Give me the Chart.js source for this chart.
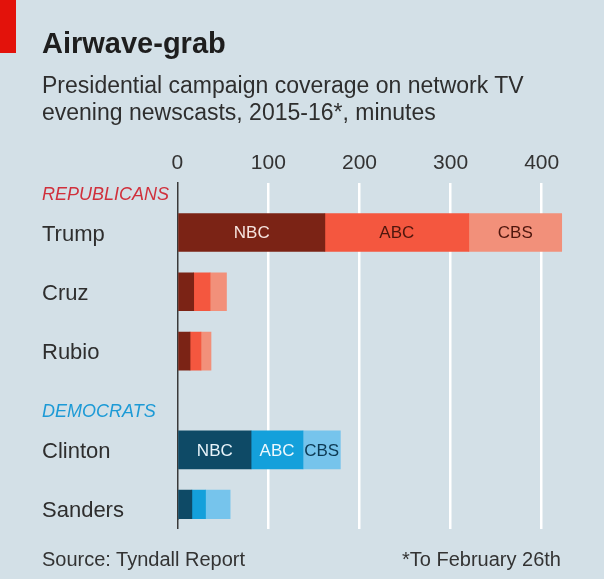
<!DOCTYPE html>
<html lang="en">
<head>
    <meta charset="UTF-8">
    <title>Airwave-grab</title>
    <script src="https://cdn.jsdelivr.net/npm/chart.js"></script>
    <style>
        body {
            margin: 0;
            background: #d3e0e7;
            font-family: "Liberation Sans", Arial, sans-serif;
            color: #2a2a2a;
        }
        .wrap {
            position: relative;
            width: 604px;
            height: 579px;
            overflow: hidden;
        }
        canvas {
            position: absolute;
            left: 0;
            top: 0;
        }
        .flag {
            position: absolute;
            left: 0;
            top: 0;
            width: 16px;
            height: 53px;
            background: #e3120b;
        }
        .title {
            position: absolute;
            left: 42px;
            top: 28.5px;
            font-size: 29px;
            line-height: 1;
            font-weight: bold;
            color: #1e1e1e;
        }
        .subtitle {
            position: absolute;
            left: 42px;
            top: 71.6px;
            font-size: 23px;
            line-height: 27.4px;
            color: #2e2e2e;
        }
        .note {
            position: absolute;
            top: 549px;
            font-size: 20px;
            line-height: 1;
            color: #333;
        }
    </style>
</head>
<body>
<div class="wrap">
    <canvas id="chart" width="604" height="579"></canvas>
    <div class="flag"></div>
    <div class="title">Airwave-grab</div>
    <div class="subtitle">Presidential campaign coverage on network TV<br>evening newscasts, 2015-16*, minutes</div>
    <div class="note" style="left: 42px;">Source: Tyndall Report</div>
    <div class="note" style="right: 43px;">*To February 26th</div>
</div>

<script>
    // minutes of coverage
    const republicans = ['Trump', 'Cruz', 'Rubio'];
    const repNBC = [162, 18, 14];
    const repABC = [158, 18, 12];
    const repCBS = [102, 18, 11];

    const democrats = ['Clinton', 'Sanders'];
    const demNBC = [81, 16];
    const demABC = [57, 15];
    const demCBS = [41, 27];

    const networks = ['NBC', 'ABC', 'CBS'];
    const xTicks = [0, 100, 200, 300, 400];

    const redShades = ['#7b2315', '#f4573f', '#f2907a'];
    const blueShades = ['#0e4a66', '#14a0db', '#76c4ec'];
    const redText = ['#f6e4df', '#4e160d', '#4e160d'];
    const blueText = ['#e8f4fa', '#eef8fd', '#0c3953'];

    // rows of the category axis, with blank rows as spacers
    const rows = [];
    const gap = (n) => { for (let i = 0; i < n; i++) rows.push(''); };
    rows.push('REPUBLICANS');
    gap(1);
    republicans.forEach((name, i) => { if (i) gap(2); rows.push(name); });
    gap(2);
    rows.push('DEMOCRATS');
    gap(1);
    democrats.forEach((name, i) => { if (i) gap(2); rows.push(name); });

    const repSeries = [repNBC, repABC, repCBS];
    const demSeries = [demNBC, demABC, demCBS];

    function valuesFor(k) {
        return rows.map((r) => {
            if (republicans.includes(r)) return repSeries[k][republicans.indexOf(r)];
            if (democrats.includes(r)) return demSeries[k][democrats.indexOf(r)];
            return null;
        });
    }

    const isDem = (i) => democrats.includes(rows[i]);
    const isHeader = (r) => r === 'REPUBLICANS' || r === 'DEMOCRATS';

    // network names inside the first bar of each party
    const segmentLabels = {
        id: 'segmentLabels',
        afterDatasetsDraw(chart) {
            const ctx = chart.ctx;
            ctx.save();
            ctx.font = '17px "Liberation Sans", Arial, sans-serif';
            ctx.textAlign = 'center';
            ctx.textBaseline = 'middle';
            chart.data.datasets.forEach((ds, k) => {
                const meta = chart.getDatasetMeta(k);
                [republicans[0], democrats[0]].forEach((name) => {
                    const i = rows.indexOf(name);
                    const bar = meta.data[i];
                    ctx.fillStyle = isDem(i) ? blueText[k] : redText[k];
                    ctx.fillText(networks[k], (bar.x + bar.base) / 2, bar.y + 1);
                });
            });
            ctx.restore();
        }
    };

    const gridColor = (c) => (c.tick && c.tick.value === 0 ? '#3a3a3a' : '#ffffff');
    const gridWidth = (c) => (c.tick && c.tick.value === 0 ? 1.5 : 2.5);

    new Chart(document.getElementById('chart'), {
        type: 'bar',
        data: {
            labels: rows,
            datasets: networks.map((n, k) => ({
                label: n,
                data: valuesFor(k),
                backgroundColor: (c) => (isDem(c.dataIndex) ? blueShades[k] : redShades[k]),
                borderWidth: 0,
                barThickness: 38,
            })),
        },
        options: {
            indexAxis: 'y',
            responsive: false,
            animation: false,
            layout: {
                padding: { left: 42, right: 35, top: 130, bottom: 50 },
            },
            plugins: {
                legend: { display: false },
                tooltip: { enabled: false },
            },
            scales: {
                x: {
                    position: 'top',
                    stacked: true,
                    min: 0,
                    max: 430,
                    afterBuildTicks: (s) => { s.ticks = xTicks.map((v) => ({ value: v })); },
                    afterFit: (s) => { s.height = 53.1; },
                    border: { display: false },
                    grid: {
                        color: (c) => (c.tick && c.tick.value === 0 ? 'transparent' : '#ffffff'),
                        lineWidth: 2.5,
                        drawTicks: false,
                    },
                    ticks: {
                        padding: 7,
                        color: '#333',
                        font: { family: '"Liberation Sans", Arial, sans-serif', size: 21 },
                    },
                },
                x2: {
                    position: 'bottom',
                    min: 0,
                    max: 430,
                    afterBuildTicks: (s) => { s.ticks = xTicks.map((v) => ({ value: v })); },
                    afterFit: (s) => { s.height = 10; },
                    border: { display: false },
                    grid: {
                        drawOnChartArea: false,
                        drawTicks: true,
                        tickLength: 10,
                        color: gridColor,
                        lineWidth: gridWidth,
                    },
                    ticks: { display: false },
                },
                y: {
                    stacked: true,
                    offset: true,
                    afterFit: (s) => { s.width = 135.3; },
                    grid: { display: false },
                    border: { display: true, color: '#3a3a3a', width: 1.5 },
                    ticks: {
                        autoSkip: false,
                        crossAlign: 'far',
                        padding: 0,
                        labelOffset: 2,
                        color: (c) => {
                            const r = rows[c.index];
                            if (r === 'REPUBLICANS') return '#d0303c';
                            if (r === 'DEMOCRATS') return '#1c9ad6';
                            return '#2e2e2e';
                        },
                        font: (c) => {
                            if (isHeader(rows[c.index])) {
                                return { family: '"Liberation Sans", Arial, sans-serif', size: 18, style: 'italic' };
                            }
                            return { family: '"Liberation Sans", Arial, sans-serif', size: 22 };
                        },
                    },
                },
            },
        },
        plugins: [segmentLabels],
    });
</script>
</body>
</html>
